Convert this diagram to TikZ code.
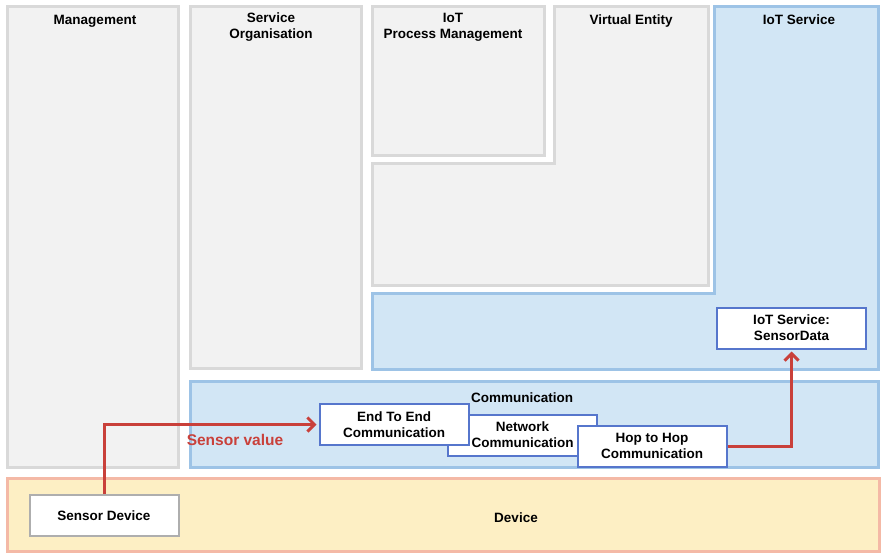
\documentclass[tikz,border=0pt]{standalone}
\usepackage{fontspec}
\setmainfont{Liberation Sans}
\usetikzlibrary{arrows.meta}
\definecolor{grayfill}{HTML}{F2F2F2}
\definecolor{grayline}{HTML}{D9D9D9}
\definecolor{bluefill}{HTML}{D2E6F5}
\definecolor{blueline}{HTML}{9DC3E6}
\definecolor{boxline}{HTML}{5676CC}
\definecolor{devfill}{HTML}{FDEFC4}
\definecolor{devline}{HTML}{F4B9A6}
\definecolor{flowred}{HTML}{C9403A}
\tikzset{
  graylayer/.style={line width=3pt,draw=grayline,fill=grayfill},
  bluelayer/.style={line width=3pt,draw=blueline,fill=bluefill},
  title/.style={font=\bfseries\fontsize{13.5}{16}\selectfont,align=center},
  fcbox/.style={title,draw=boxline,fill=white,line width=2pt,
    minimum width=149pt,minimum height=41pt,inner sep=1pt},
  flow/.style={draw=flowred,line width=3pt,shorten >=2pt,
    -{Straight Barb[length=7pt,width=14pt]}}
}
\begin{document}
\begin{tikzpicture}[x=1pt,y=-1pt]
\useasboundingbox (0,0) rectangle (885,555);
\draw[graylayer] (7.5,6.5) rectangle (178.5,467.5);
\draw[graylayer] (190.5,6.5) rectangle (361.5,368.5);
\draw[graylayer] (372.5,6.5) rectangle (544.5,155.5);
\draw[graylayer] (554.5,6.5) -- (708,6.5) -- (708,285.5) -- (372.5,285.5)
  -- (372.5,163.5) -- (554.5,163.5) -- cycle;
\draw[bluelayer] (714.5,6.5) -- (878.5,6.5) -- (878.5,369.5) -- (372.5,369.5)
  -- (372.5,293.5) -- (714.5,293.5) -- cycle;
\draw[bluelayer] (190.5,381.5) rectangle (878.5,467.5);
\draw[line width=3pt,draw=devline,fill=devfill] (7.5,478.5) rectangle (879.5,551.5);
\node[title] (mgmt) at (95,21) {Management};
\node[title] (servorg) at (271,27) {Service\\Organisation};
\node[title] (procmgmt) at (453,27) {IoT\\Process Management};
\node[title] (ventity) at (631,21) {Virtual Entity};
\node[title] (iotserv) at (799,20) {IoT Service};
\node[title] (comm) at (522,398) {Communication};
\node[title] (device) at (516,518) {Device};
\node[fcbox] (net) at (522.5,435) {Network\\Communication};
\node[fcbox] (e2e) at (394,424.5) {End To End\\Communication};
\node[fcbox] (hop) at (652,446) {Hop to Hop\\Communication};
\node[fcbox] (sdata) at (791.5,328) {IoT Service:\\SensorData};
\node[fcbox,draw=grayline!80!black] (sensor) at (104,515.5) {Sensor Device};
\draw[flow] (sensor.north) |- (e2e.west);
\draw[flow] (hop.east) -| (sdata.south);
\node[font=\bfseries\fontsize{15.5}{18}\selectfont,text=flowred] (sval) at (235,440) {Sensor value};
\end{tikzpicture}
\end{document}
